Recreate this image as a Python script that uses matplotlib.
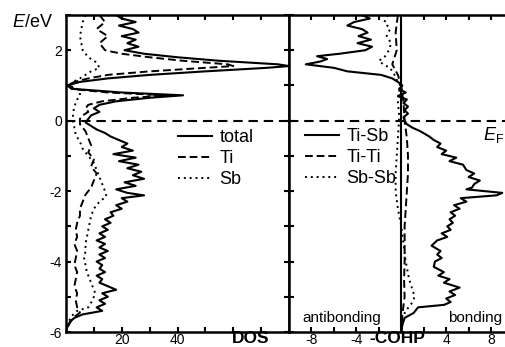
import numpy as np
import matplotlib
matplotlib.use("Agg")
import matplotlib.pyplot as plt
from matplotlib.ticker import FixedLocator, FixedFormatter

plt.rcParams["font.family"] = ["Liberation Sans", "DejaVu Sans"]
plt.rcParams["mathtext.fontset"] = "custom"
plt.rcParams["mathtext.rm"] = "Liberation Sans"
plt.rcParams["mathtext.it"] = "Liberation Sans:italic"
plt.rcParams["axes.unicode_minus"] = False

# DOS curves: energy (eV) and states
e_total = [3.0, 2.9, 2.8, 2.7, 2.6, 2.5, 2.4, 2.3, 2.2, 2.1, 2.0, 1.9, 1.8, 1.7, 1.6, 1.55,
           1.5, 1.4, 1.3, 1.2, 1.1, 1.0, 0.9, 0.8, 0.72, 0.65, 0.55, 0.45, 0.35, 0.25, 0.15,
           0.05, -0.05, -0.15, -0.25, -0.35, -0.45, -0.55, -0.65, -0.75, -0.85, -0.95,
           -1.05, -1.15, -1.25, -1.35, -1.45, -1.55, -1.65, -1.75, -1.85, -1.95, -2.05,
           -2.12, -2.2, -2.3, -2.4, -2.5, -2.6, -2.7, -2.8, -2.9, -3.0, -3.1, -3.2, -3.3,
           -3.4, -3.5, -3.6, -3.7, -3.8, -3.9, -4.0, -4.1, -4.2, -4.3, -4.4, -4.5, -4.6,
           -4.7, -4.8, -4.9, -5.0, -5.1, -5.2, -5.3, -5.4, -5.5, -5.6, -5.7, -5.8, -5.9, -6.0]
dos_total = [18, 20, 25, 19, 24, 26, 20, 25, 22, 26, 21, 28, 40, 55, 76, 80,
             72, 50, 30, 15, 5, 0.5, 3, 20, 42, 30, 18, 12, 10, 12, 9,
             8, 7, 9, 11, 14, 16, 19, 22, 20, 24, 17,
             25, 19, 26, 22, 27, 24, 28, 21, 25, 18, 22,
             28, 20, 22, 18, 20, 16, 17, 14, 16, 13, 15, 12, 14,
             11, 14, 12, 15, 12, 14, 11, 13, 12, 14, 11, 13, 12,
             15, 18, 13, 15, 12, 14, 11, 13, 6, 3, 1.5, 0.8, 0.3, 0]

e_ti = [3.0, 2.8, 2.6, 2.4, 2.2, 2.0, 1.9, 1.8, 1.7, 1.6, 1.55, 1.5, 1.4, 1.3, 1.2, 1.1,
        1.0, 0.9, 0.8, 0.72, 0.65, 0.55, 0.45, 0.35, 0.25, 0.15, 0.05, -0.1, -0.3, -0.5,
        -0.7, -0.9, -1.1, -1.3, -1.5, -1.7, -1.9, -2.1, -2.3, -2.5, -2.7, -2.9, -3.1,
        -3.3, -3.5, -3.7, -3.9, -4.1, -4.3, -4.5, -4.7, -4.9, -5.1, -5.3, -5.45, -5.6,
        -5.8, -6.0]
dos_ti = [12, 14, 11, 15, 12, 14, 20, 30, 42, 58, 60, 50, 30, 15, 8, 3,
          0.5, 2, 15, 36, 24, 13, 8, 7, 8, 6, 5, 5, 7, 8,
          9, 8, 10, 9, 11, 10, 9, 7, 6, 5, 5, 4, 3.5,
          4, 3, 4, 3.5, 3, 4, 3.5, 3, 4, 3.5, 4, 5, 2.5,
          1, 0]

e_sb = [3.0, 2.8, 2.6, 2.4, 2.2, 2.0, 1.8, 1.65, 1.5, 1.4, 1.3, 1.2, 1.1, 1.0, 0.9, 0.8,
        0.7, 0.6, 0.4, 0.2, 0.0, -0.2, -0.4, -0.6, -0.8, -1.0, -1.2, -1.4, -1.6, -1.8,
        -2.0, -2.15, -2.3, -2.5, -2.7, -2.9, -3.1, -3.3, -3.5, -3.7, -3.9, -4.1, -4.3,
        -4.5, -4.7, -4.9, -5.1, -5.3, -5.4, -5.55, -5.7, -5.85, -6.0]
dos_sb = [7, 6, 5.5, 5, 5.5, 6, 8, 11, 12, 9, 7, 5, 2.5, 1, 4, 5,
          5, 4, 3, 2.5, 2.5, 3, 3.5, 5, 6, 8, 10, 11, 12, 13,
          14, 14.5, 12, 10, 9, 8.5, 8, 7.5, 7, 7, 6.5, 7, 7.5,
          8.5, 9.5, 10.5, 9.5, 8, 4, 2, 1, 0.5, 0]

# -COHP curves
e_tisb = [3.0, 2.9, 2.8, 2.7, 2.6, 2.5, 2.4, 2.3, 2.2, 2.1, 2.0, 1.9, 1.83, 1.75, 1.68,
          1.6, 1.5, 1.4, 1.3, 1.2, 1.1, 1.0, 0.9, 0.8, 0.7, 0.6, 0.5, 0.4, 0.3, 0.2, 0.1,
          0.0, -0.1, -0.2, -0.3, -0.45, -0.55, -0.65, -0.75, -0.85, -0.95, -1.05, -1.15,
          -1.25, -1.4, -1.5, -1.6, -1.7, -1.8, -1.9, -1.95, -2.05, -2.12, -2.2, -2.3,
          -2.4, -2.5, -2.6, -2.7, -2.8, -2.9, -3.0, -3.1, -3.2, -3.3, -3.4, -3.55, -3.7,
          -3.8, -3.9, -4.0, -4.15, -4.3, -4.4, -4.5, -4.6, -4.74, -4.85, -4.95, -5.05,
          -5.15, -5.23, -5.3, -5.46, -5.6, -5.8, -6.0]
cohp_tisb = [-3.5, -2.8, -4.2, -4.8, -3.5, -3.0, -3.8, -2.7, -3.9, -2.6, -3.2, -5.5, -7.5,
             -6.6, -7.2, -8.5, -6.0, -4.8, -1.8, -0.8, -0.3, 0.1, -0.2, 0.4, -0.3, 0.5,
             0.2, 0.6, 0.3, 0.6, 0.2, 0.3, 0.5, 1.0, 1.7, 2.5, 2.9, 3.5, 3.2, 4.0, 3.6,
             4.9, 4.3, 5.5, 5.8, 6.5, 6.0, 7.0, 6.5, 6.3, 5.8, 9.0, 8.5, 5.3, 5.8, 4.7,
             5.2, 4.4, 4.8, 4.3, 4.6, 4.1, 4.4, 3.6, 4.1, 3.2, 2.7, 3.5, 3.2, 3.6, 3.0,
             2.9, 3.8, 3.3, 4.3, 3.8, 5.2, 4.3, 4.8, 4.0, 4.4, 3.8, 1.5, 1.1, 0.3, 0.1, 0]

e_titi = [3.0, 2.5, 2.0, 1.6, 1.3, 1.0, 0.5, 0.0, -0.5, -1.0, -1.5, -2.0, -2.5, -3.0,
          -3.5, -4.0, -4.5, -5.0, -5.5, -6.0]
cohp_titi = [-0.3, -0.5, -0.4, -0.8, -0.3, 0.0, 0.2, 0.3, 0.5, 0.6, 0.6, 0.5, 0.4, 0.3,
             0.3, 0.3, 0.25, 0.3, 0.1, 0]

e_sbsb = [3.0, 2.8, 2.6, 2.4, 2.2, 2.0, 1.8, 1.7, 1.6, 1.5, 1.3, 1.1, 1.0, 0.8, 0.5, 0.2,
          0.0, -0.5, -1.0, -1.5, -2.0, -2.5, -3.0, -3.5, -4.0, -4.5, -4.8, -5.0, -5.2,
          -5.4, -5.6, -6.0]
cohp_sbsb = [-1.2, -1.5, -1.0, -1.3, -0.9, -1.1, -1.5, -2.0, -1.6, -1.0, -0.6, -0.3, -0.1,
             -0.2, -0.3, -0.2, -0.2, -0.3, -0.4, -0.5, -0.5, -0.3, 0.0, 0.2, 0.4, 0.7,
             1.0, 1.2, 0.9, 0.4, 0.1, 0]

dos_ticks = [10, 20, 30, 40, 50, 60, 70]
dos_labels = ["", "20", "", "40", "", "", ""]
cohp_ticks = [-8, -6, -4, -2, 2, 4, 6, 8]
cohp_labels = ["-8", "", "-4", "", "", "4", "", "8"]
e_ticks = [-6, -5, -4, -3, -2, -1, 0, 1, 2, 3]
e_labels = ["-6", "", "-4", "", "-2", "", "0", "", "2", ""]

W, H = 505, 347
fig = plt.figure(figsize=(W / 100, H / 100), dpi=100)

x0, xs, x1 = 66 / W, 289 / W, 513.5 / W
y0, y1 = 1 - 332 / H, 1 - 15 / H
ax1 = fig.add_axes([x0, y0, xs - x0, y1 - y0])
ax2 = fig.add_axes([xs, y0, x1 - xs, y1 - y0])

dash_e0 = (0, (4.5, 2.8))
dash_ti = (0, (4.0, 2.0))
dot_sb = (0, (1, 2))

# DOS panel
ax1.plot(dos_total, e_total, color="black", lw=1.5, label="total")
ax1.plot(dos_ti, e_ti, color="black", lw=1.4, ls=dash_ti, label="Ti")
ax1.plot(dos_sb, e_sb, color="black", lw=1.4, ls=dot_sb, label="Sb")
ax1.axhline(0, color="black", lw=1.5, ls=dash_e0)
ax1.set_xlim(0, 80)
ax1.set_ylim(-6, 3)

# COHP panel
ax2.plot(cohp_tisb, e_tisb, color="black", lw=1.5, label="Ti-Sb")
ax2.plot(cohp_titi, e_titi, color="black", lw=1.4, ls=dash_ti, label="Ti-Ti")
ax2.plot(cohp_sbsb, e_sbsb, color="black", lw=1.4, ls=dot_sb, label="Sb-Sb")
ax2.axhline(0, color="black", lw=1.5, ls=dash_e0)
ax2.axvline(0, color="black", lw=1.5)
ax2.set_xlim(-10, 10)
ax2.set_ylim(-6, 3)

for ax in (ax1, ax2):
    for s in ax.spines.values():
        s.set_linewidth(1.8)
    ax.tick_params(direction="in", length=3.5, width=1.5, labelsize=10,
                   top=True, bottom=True, pad=0.5)

ax1.xaxis.set_major_locator(FixedLocator(dos_ticks))
ax1.xaxis.set_major_formatter(FixedFormatter(dos_labels))
ax1.yaxis.set_major_locator(FixedLocator(e_ticks))
ax1.yaxis.set_major_formatter(FixedFormatter(e_labels))
ax1.tick_params(axis="y", left=True, right=True, pad=3)

ax2.xaxis.set_major_locator(FixedLocator(cohp_ticks))
ax2.xaxis.set_major_formatter(FixedFormatter(cohp_labels))
ax2.yaxis.set_major_locator(FixedLocator(e_ticks))
ax2.tick_params(axis="y", left=True, right=False, labelleft=False)

leg_kw = dict(frameon=False, fontsize=13, handlelength=1.9, handletextpad=0.4,
              labelspacing=0.22, borderpad=0, borderaxespad=0,
              loc="upper left", bbox_transform=fig.transFigure)
ax1.legend(bbox_to_anchor=(178 / W, 1 - 129 / H), **leg_kw)
ax2.legend(bbox_to_anchor=(305 / W, 1 - 128 / H), **leg_kw)

fig.text(12 / W, 1 - 27 / H, "$E$/eV", fontsize=13, ha="left", va="baseline")
fig.text(483 / W, 1 - 140 / H, r"$E_\mathrm{F}$", fontsize=13, ha="left", va="baseline")
fig.text(251 / W, 1 - 343 / H, "DOS", fontsize=12.5, fontweight="bold",
         ha="center", va="baseline")
fig.text(397 / W, 1 - 343 / H, "-COHP", fontsize=12.5, fontweight="bold",
         ha="center", va="baseline")
fig.text(302 / W, 1 - 322 / H, "antibonding", fontsize=11, ha="left", va="baseline")
fig.text(448 / W, 1 - 322 / H, "bonding", fontsize=11, ha="left", va="baseline")

fig.savefig("out.png", dpi=100)
